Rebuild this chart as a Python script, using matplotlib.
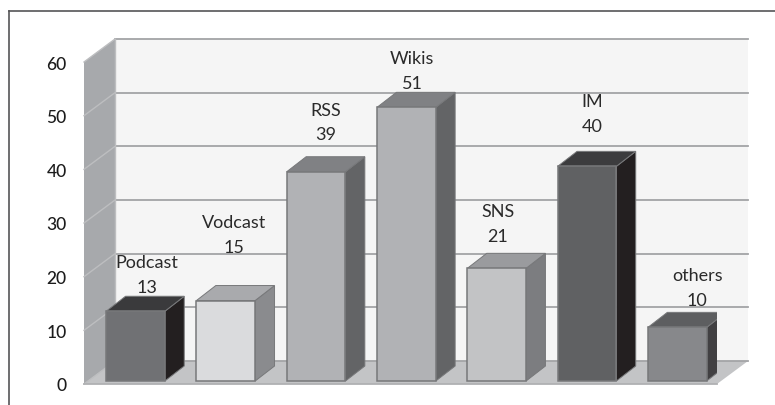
import matplotlib
matplotlib.use("Agg")
import matplotlib.pyplot as plt
from matplotlib.lines import Line2D

plt.rcParams['font.family'] = ['Lato', 'DejaVu Sans']

categories = ["Podcast", "Vodcast", "RSS", "Wikis", "SNS", "IM", "others"]
values = [13, 15, 39, 51, 21, 40, 10]
y_ticks = [0, 10, 20, 30, 40, 50, 60]

front_colors = ["#707174", "#dadbdd", "#b1b2b5", "#b1b2b5", "#c2c3c5", "#606163", "#87888b"]
side_colors = ["#231f20", "#8a8b8e", "#636466", "#636466", "#7c7d80", "#231f20", "#414042"]
top_colors = ["#3a3a3c", "#a9aaad", "#808184", "#808184", "#9a9b9e", "#3c3c3e", "#5d5e60"]

# hand placed label offsets, in pixels from the bar's front top centre
label_dx = [11, 8, 10, 6, 1, 5, 20]
label_dy = [37, 66, 50, 37, 45, 53, 40]

# fake 3d depth, in data units
wall_dx, wall_dy = 0.343, 4.28
bar_dx, bar_dy = 0.215, 2.8
bar_base = 0.55
bar_width = 0.65
x_min, x_max = -0.57, 6.44
y_max = 60

W, H = 775, 406
fig = plt.figure(figsize=(W / 100, H / 100), dpi=100)
ax = fig.add_axes([84 / W, (H - 385) / H, (717 - 84) / W, (385 - 63) / H])
ax.set_xlim(x_min, x_max)
ax.set_ylim(0, y_max)
for s in ax.spines.values():
    s.set_visible(False)
ax.set_xticks([])
ax.set_yticks(y_ticks)
ax.tick_params(axis="y", length=0, pad=12.5, labelsize=12.5, labelcolor="#1c1c1c")
for t in ax.get_yticklabels():
    t.set_fontweight("medium")
    t.set_y(t.get_position()[1])

grid_col = "#a3a4a6"
# walls and floor
ax.fill([x_min + wall_dx, x_max + wall_dx, x_max + wall_dx, x_min + wall_dx],
        [wall_dy, wall_dy, y_max + wall_dy, y_max + wall_dy],
        color="#f5f5f5", lw=0, clip_on=False, zorder=1)
ax.fill([x_min, x_min + wall_dx, x_min + wall_dx, x_min],
        [0, wall_dy, y_max + wall_dy, y_max],
        color="#a7a9ac", lw=0, clip_on=False, zorder=1)
ax.fill([x_min, x_max, x_max + wall_dx, x_min + wall_dx],
        [0, 0, wall_dy, wall_dy],
        color="#c3c4c6", lw=0, clip_on=False, zorder=1)
for v in y_ticks:
    ax.plot([x_min + wall_dx, x_max + wall_dx], [v + wall_dy, v + wall_dy],
            color=grid_col, lw=1.3, clip_on=False, zorder=2)
    ax.plot([x_min, x_min + wall_dx], [v, v + wall_dy],
            color="#bdbec0", lw=1.0, clip_on=False, zorder=2)
ax.plot([x_min + wall_dx, x_min + wall_dx], [wall_dy, y_max + wall_dy],
        color="#bdbec0", lw=1.0, clip_on=False, zorder=2)
ax.plot([x_min, x_max], [0, 0], color="#b0b1b3", lw=1.3, clip_on=False, zorder=2)

edge = "#77787a"
for i, v in enumerate(values):
    l = i - bar_width / 2
    r = i + bar_width / 2
    t = v + bar_base
    ax.bar(i, v, bottom=bar_base, width=bar_width, color=front_colors[i],
           edgecolor=edge, lw=1.1, zorder=4)
    ax.fill([r, r + bar_dx, r + bar_dx, r],
            [bar_base, bar_base + bar_dy, t + bar_dy, t],
            facecolor=side_colors[i], edgecolor=edge, lw=0.7, zorder=3)
    ax.fill([l, r, r + bar_dx, l + bar_dx],
            [t, t, t + bar_dy, t + bar_dy],
            facecolor=top_colors[i], edgecolor=edge, lw=0.7, zorder=3)
    ax.annotate(f"{categories[i]}\n{v}", (i, t),
                xytext=(label_dx[i], label_dy[i]), textcoords="offset pixels",
                ha="center", va="center", fontsize=13, color="#2a2a2a",
                linespacing=1.65, zorder=5, annotation_clip=False)

# outer frame, cut by the page on the right and bottom
frame = "#555557"
fig.add_artist(Line2D([8.5 / W, 1], [1 - 12 / H, 1 - 12 / H], color=frame, lw=1.2))
fig.add_artist(Line2D([8.5 / W, 8.5 / W], [0, 1 - 12 / H], color=frame, lw=1.2))

fig.savefig("out.png", dpi=100)
